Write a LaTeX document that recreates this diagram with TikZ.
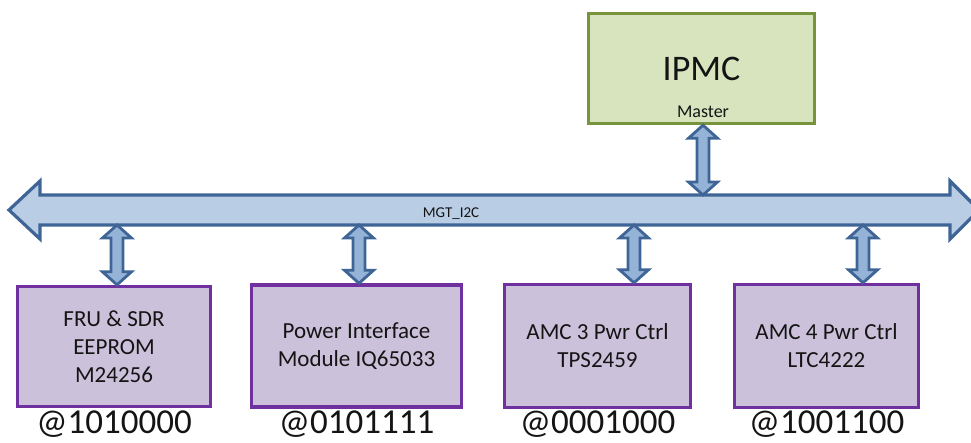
\documentclass[tikz,border=0pt]{standalone}
\usepackage{fontspec}
\setmainfont{Carlito}
\usetikzlibrary{calc}

\definecolor{busfill}{HTML}{B9CDE5}
\definecolor{busline}{HTML}{3E6596}
\definecolor{linkfill}{HTML}{95B3D7}
\definecolor{devfill}{HTML}{CCC1DA}
\definecolor{devline}{HTML}{7030A0}
\definecolor{ipmcfill}{HTML}{D7E4BD}
\definecolor{ipmcline}{HTML}{77933C}
\definecolor{ink}{HTML}{141414}

\tikzset{
  device/.style={draw=devline, fill=devfill, line width=3.4pt, align=center,
    text=ink, font=\fontsize{23}{28}\selectfont, inner sep=0pt},
  master/.style={draw=ipmcline, fill=ipmcfill, line width=3.4pt,
    minimum width=226pt, minimum height=110pt, text=ink,
    font=\fontsize{36}{43}\selectfont, inner sep=0pt},
  addr/.style={text=ink, font=\fontsize{35}{42}\selectfont, inner sep=0pt, anchor=base},
  buslabel/.style={text=ink, font=\fontsize{15}{18}\selectfont, inner sep=0pt, anchor=base},
  % vertical double-headed block arrow between two points (x taken from the start)
  dbllink/.style={draw=busline, fill=linkfill, line width=2.8pt, line join=miter,
    to path={let \p1=(\tikztostart), \p2=(\tikztotarget) in
      (\x1,\y1) -- (\x1+14.5pt,\y1-13pt) -- (\x1+6pt,\y1-13pt)
      -- (\x1+6pt,\y2+13pt) -- (\x1+14.5pt,\y2+13pt) -- (\x1,\y2)
      -- (\x1-14.5pt,\y2+13pt) -- (\x1-6pt,\y2+13pt)
      -- (\x1-6pt,\y1-13pt) -- (\x1-14.5pt,\y1-13pt) -- cycle}}
}

\begin{document}
\begin{tikzpicture}[x=1pt,y=-1pt]
\useasboundingbox (0,0) rectangle (971,442);

% I2C bus as a wide double-headed arrow
\draw[draw=busline, fill=busfill, line width=3.2pt, line join=miter]
  (9,210) -- (40,181) -- (40,195) -- (950,195) -- (950,181) -- (979,210)
  -- (950,239) -- (950,225) -- (40,225) -- (40,239) -- cycle;
\coordinate (bustop) at (0,195);
\coordinate (m1) at (117,225);
\coordinate (m2) at (359,225);
\coordinate (m3) at (634,225);
\coordinate (m4) at (863,225);
\node[buslabel] (busname) at (451,217) {MGT\_I2C};

% master controller
\node[master] (ipmc) at (701.5,68.5) {};
\node[text=ink, font=\fontsize{36}{43}\selectfont, inner sep=0pt, anchor=base]
  (ipmctext) at (701.5,80) {IPMC};
\node[text=ink, font=\fontsize{18}{22}\selectfont, inner sep=0pt, anchor=base]
  (mastertext) at (703,117) {Master};

% slave devices
\node[device, minimum width=193pt, minimum height=120pt] (b1) at (114,346.5)
  {FRU \& SDR\\EEPROM\\M24256};
\node[device, minimum width=210pt, minimum height=122pt] (b2) at (356.5,346)
  {Power Interface\\Module IQ65033};
\node[device, minimum width=186pt, minimum height=123pt] (b3) at (597.5,346)
  {AMC 3 Pwr Ctrl\\TPS2459};
\node[device, minimum width=184pt, minimum height=123pt] (b4) at (826.5,346)
  {AMC 4 Pwr Ctrl\\LTC4222};

% I2C addresses
\node[addr] (a1) at (b1.south |- 0,433) {@1010000};
\node[addr] (a2) at (b2.south |- 0,433) {@0101111};
\node[addr] (a3) at (b3.south |- 0,433) {@0001000};
\node[addr] (a4) at (b4.south |- 0,433) {@1001100};

% bus connections
\draw[dbllink] ([xshift=1.5pt]ipmc.south) to ([xshift=1.5pt]ipmc.south |- bustop);
\draw[dbllink] (m1) to (m1 |- b1.north);
\draw[dbllink] (m2) to (m2 |- b2.north);
\draw[dbllink] (m3) to (m3 |- b3.north);
\draw[dbllink] (m4) to (m4 |- b4.north);
\end{tikzpicture}
\end{document}
